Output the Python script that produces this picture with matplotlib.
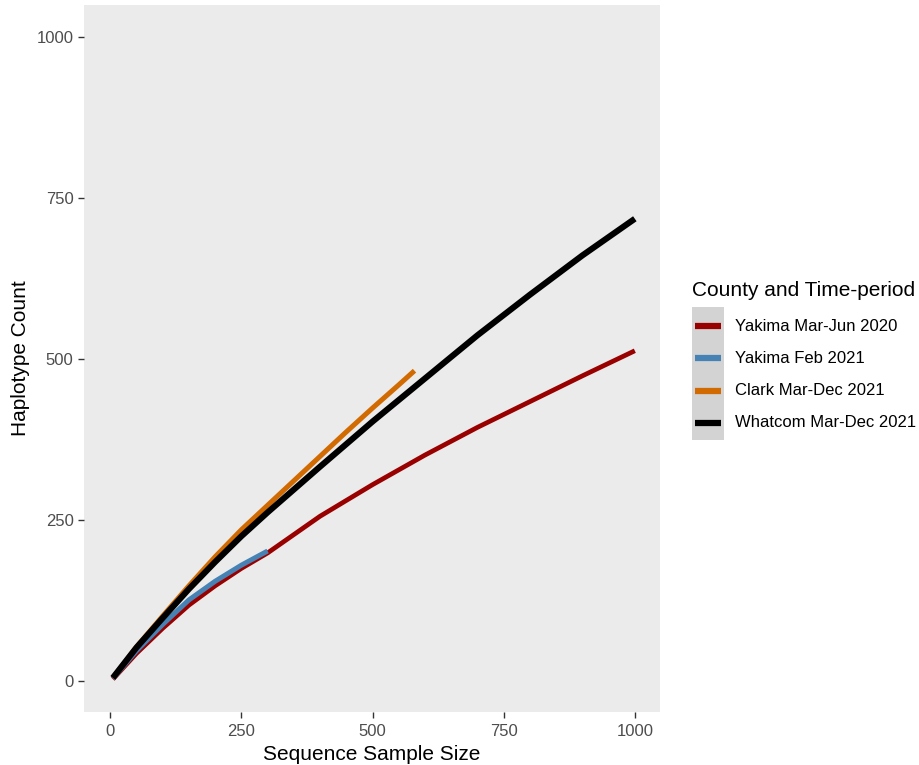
import matplotlib.pyplot as plt
from matplotlib.lines import Line2D
from matplotlib.patches import Rectangle

plt.rcParams['font.family'] = ['Liberation Sans', 'DejaVu Sans']

# rarefaction curves
red_x = [5, 50, 100, 150, 200, 250, 300, 400, 500, 600, 700, 800, 900, 1000]
red_y = [3, 43, 82, 118, 148, 175, 199, 256, 305, 351, 394, 434, 474, 513]

blue_x = [5, 50, 100, 150, 200, 250, 300]
blue_y = [4, 47, 88, 126, 155, 180, 202]

orange_x = [5, 50, 100, 150, 200, 250, 300, 350, 400, 450, 500, 550, 580]
orange_y = [5, 53, 101, 148, 193, 235, 273, 311, 349, 387, 424, 460, 482]

black_x = [5, 50, 100, 150, 200, 250, 300, 400, 500, 600, 700, 800, 900, 1000]
black_y = [5, 52, 98, 143, 185, 225, 262, 333, 403, 470, 537, 600, 661, 718]

labels = ['Yakima Mar-Jun 2020', 'Yakima Feb 2021', 'Clark Mar-Dec 2021', 'Whatcom Mar-Dec 2021']
colors = ['#990000', '#4682B4', '#D16A00', '#000000']
widths = [3.4, 3.6, 3.6, 4.4]

fig = plt.figure(figsize=(9.2, 7.65), dpi=100)
ax = fig.add_axes([0.0913, 0.0693, 0.6261, 0.9242])
ax.set_facecolor('#EBEBEB')

series = [(red_x, red_y), (blue_x, blue_y), (orange_x, orange_y), (black_x, black_y)]
for (xs, ys), c, w in zip(series, colors, widths):
    ax.plot(xs, ys, color=c, lw=w, solid_capstyle='butt', solid_joinstyle='round')

ax.set_xlim(-50, 1048)
ax.set_ylim(-48, 1050)
ax.set_xticks([0, 250, 500, 750, 1000])
ax.set_yticks([0, 250, 500, 750, 1000])
for s in ax.spines.values():
    s.set_visible(False)
ax.tick_params(colors='#333333', labelcolor='#4D4D4D', labelsize=12, length=4, width=1)
ax.tick_params(axis='x', pad=5)
ax.set_xlabel('Sequence Sample Size', fontsize=15, labelpad=4)
ax.set_ylabel('Haplotype Count', fontsize=15, labelpad=5)

# legend drawn by hand, ggplot style
fig.text(692 / 920, 1 - 290 / 765, 'County and Time-period', fontsize=15, va='center', ha='left')
fig.patches.append(Rectangle((692 / 920, 1 - 440 / 765), 32 / 920, 133 / 765,
                             transform=fig.transFigure, facecolor='#D3D3D3', edgecolor='none'))
for i, (lab, c) in enumerate(zip(labels, colors)):
    yy = 1 - (326 + i * 32.3) / 765
    fig.lines.append(Line2D([695 / 920, 721 / 920], [yy, yy], transform=fig.transFigure,
                            color=c, lw=4.5, solid_capstyle='butt'))
    fig.text(735 / 920, yy, lab, fontsize=12, va='center', ha='left')

fig.savefig('out.png', dpi=100)
